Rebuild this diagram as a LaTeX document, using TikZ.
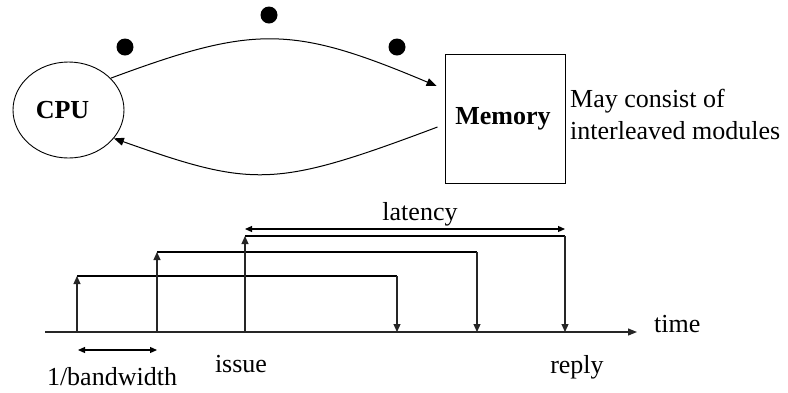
\documentclass[tikz,border=0pt]{standalone}
\usepackage{fontspec}
\setmainfont{Liberation Serif}
\usetikzlibrary{arrows.meta,shapes.geometric}

\tikzset{
  txt/.style={font=\fontsize{26}{32}\selectfont, inner sep=0pt},
  bold/.style={txt, font=\fontsize{26}{32}\selectfont\bfseries},
  unit/.style={draw, line width=0.9pt, inner sep=0pt},
  flow/.style={line width=1pt, -{Triangle[length=10pt,width=8pt]}},
  dot/.style={circle, fill=black, minimum size=17pt, inner sep=0pt},
  axis/.style={line width=1.2pt, draw=black!85, -{Triangle[length=9pt,width=7pt]}},
  stem/.style={line width=1.2pt, draw=black!85, -{Triangle[length=8pt,width=7pt]}},
  bar/.style={line width=2.3pt},
  span/.style={line width=1.2pt, {Triangle[length=7pt,width=6pt]}-{Triangle[length=7pt,width=6pt]}}
}

\begin{document}
\begin{tikzpicture}[x=1pt, y=-1pt]
\useasboundingbox (0,0) rectangle (788,392);

% processor and memory
\node[unit, ellipse, minimum width=111pt, minimum height=96pt, bold] (cpu) at (68.5,110) {\hspace*{-12pt}CPU};
\node[unit, rectangle, minimum width=120pt, minimum height=129pt, bold] (mem) at (505,118.5) {\hspace*{-4pt}Memory};
\node[txt, anchor=base west, align=left] (note) at (570,139) {May consist of\\interleaved modules};

% requests in flight
\node[dot] (d1) at (125,47) {};
\node[dot] (d2) at (269,15) {};
\node[dot] (d3) at (397,47) {};

\coordinate (min) at ([shift={(-8,-32.5)}]mem.west);
\coordinate (mout) at ([shift={(-7,8.5)}]mem.west);
\draw[flow] (cpu.37) .. controls (254,25) and (292,25) .. (min);
\draw[flow] (mout) .. controls (275,188) and (254,188) .. (cpu.-32);

% time line
\coordinate (o) at (45,332);
\coordinate (tend) at (637,332);
\draw[axis] (o) -- (tend);
\node[txt, anchor=base west] (time) at (654,332) {time};

\foreach \i/\sx/\rx/\by in {1/77/397/276, 2/157/477/252, 3/245/565/236} {
  \coordinate (s\i) at (\sx,332);
  \coordinate (r\i) at (\rx,332);
  \coordinate (a\i) at (\sx,\by);
  \coordinate (b\i) at (\rx,\by);
  \draw[bar] (a\i) -- (b\i);
  \draw[stem] (s\i) -- (a\i);
  \draw[stem] (b\i) -- (r\i);
}

% latency and issue interval
\coordinate (l1) at (245,229);
\coordinate (l2) at (565,229);
\draw[span] (l1) -- (l2);
\node[txt, anchor=base] (lat) at (420,220) {latency};

\coordinate (w1) at (78,350);
\coordinate (w2) at (157,350);
\draw[span] (w1) -- (w2);
\node[txt, anchor=base] (bw) at (112,385) {1/bandwidth};

\node[txt, anchor=base] (issue) at (241,372) {issue};
\node[txt, anchor=base] (reply) at (577,373) {reply};
\end{tikzpicture}
\end{document}
